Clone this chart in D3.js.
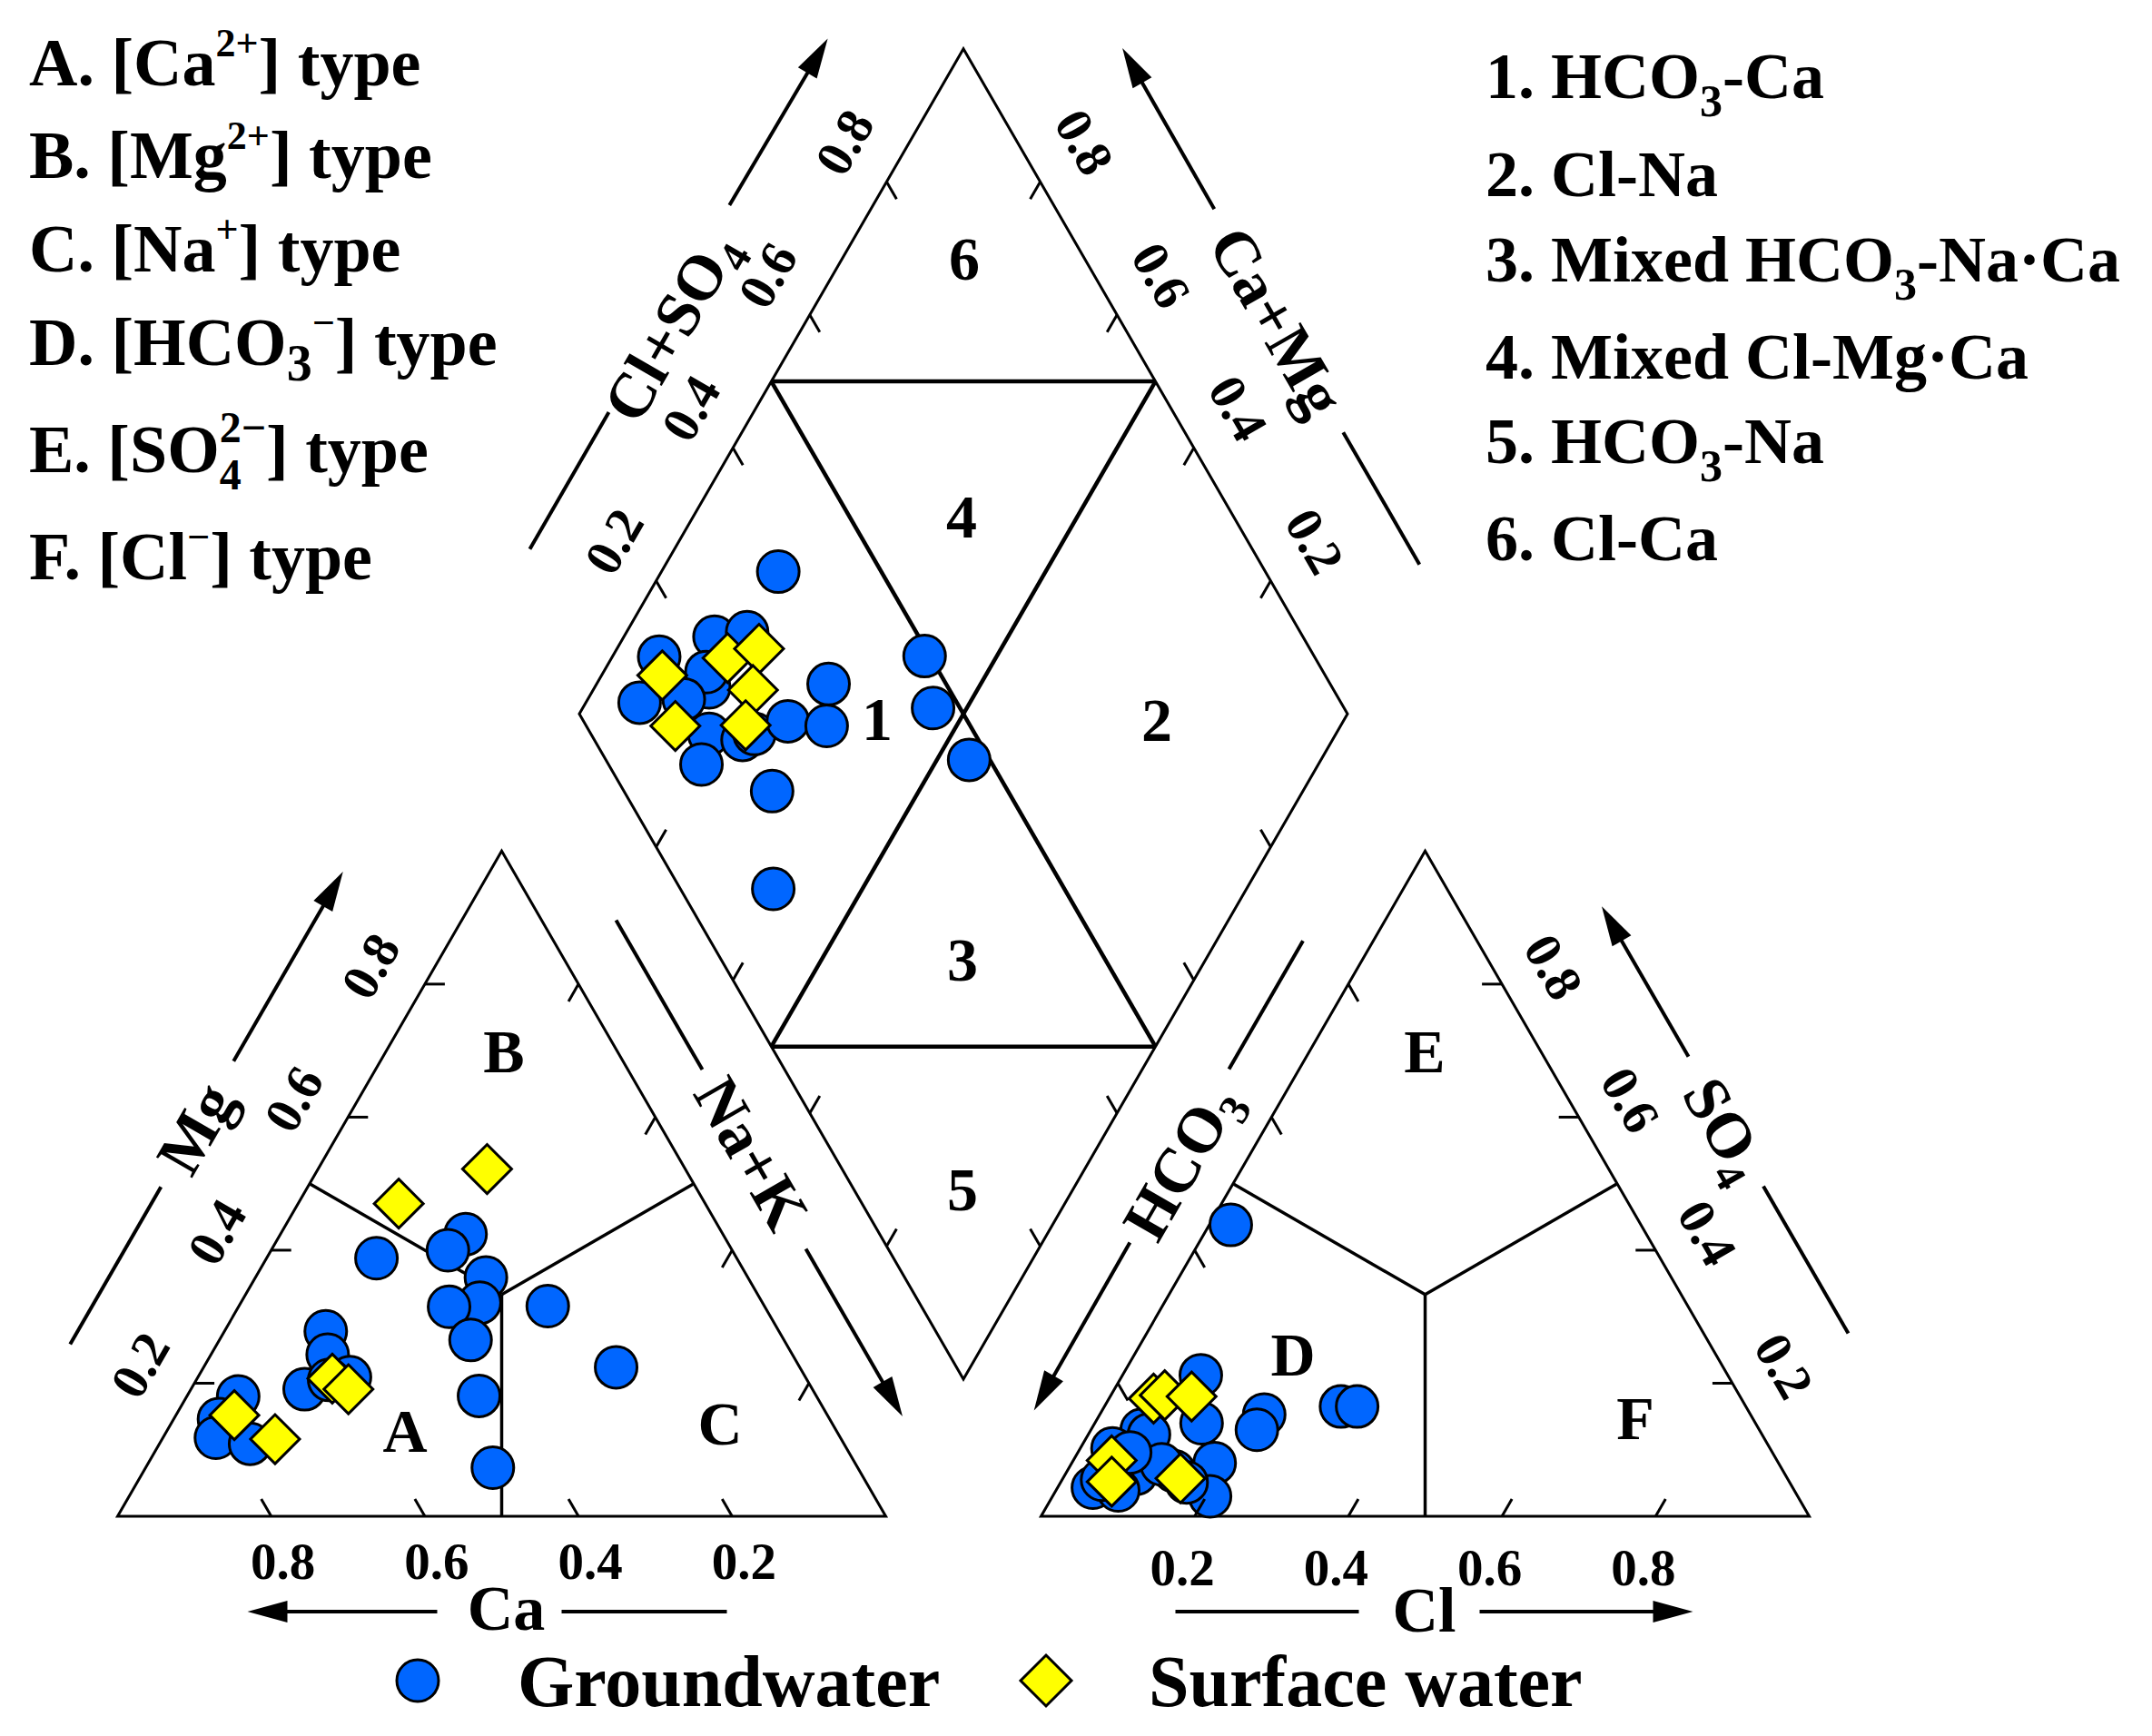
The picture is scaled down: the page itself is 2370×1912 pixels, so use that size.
<!DOCTYPE html>
<html><head><meta charset="utf-8">
<script src="https://cdn.jsdelivr.net/npm/d3@7"></script>
<style>
html,body{margin:0;padding:0;background:#fff;}
svg{display:block;}
text{font-family:"Liberation Serif","Times New Roman",serif;font-weight:bold;fill:#000;}
</style></head><body>
<svg id="chart" width="2370" height="1912"></svg>
<script>
// ---------------- DATA ----------------
// Cation triangle: [Ca, Mg, Na+K] fractions
const gwCation = [
  [0.469,0.388,0.143],[0.335,0.424,0.241],[0.370,0.400,0.230],[0.341,0.359,0.300],
  [0.368,0.321,0.311],[0.411,0.315,0.274],[0.408,0.265,0.327],[0.439,0.181,0.380],
  [0.475,0.073,0.452],[0.282,0.316,0.402],[0.239,0.224,0.537],[0.590,0.278,0.132],
  [0.605,0.243,0.152],[0.593,0.209,0.198],[0.661,0.191,0.148],[0.622,0.205,0.173],
  [0.753,0.180,0.067],[0.795,0.146,0.059],[0.813,0.118,0.069],[0.773,0.109,0.118]
];
const swCation = [
  [0.399,0.470,0.131],[0.258,0.522,0.220],[0.617,0.207,0.176],
  [0.604,0.191,0.205],[0.772,0.152,0.076],[0.737,0.116,0.147]
];
// Anion triangle: [HCO3, SO4, Cl] fractions
const gwAnion = [
  [0.534,0.438,0.028],[0.686,0.212,0.102],[0.721,0.140,0.139],[0.804,0.130,0.066],
  [0.798,0.123,0.079],[0.856,0.102,0.042],[0.844,0.064,0.092],[0.911,0.043,0.046],
  [0.880,0.039,0.081],[0.793,0.068,0.139],[0.734,0.080,0.186],[0.765,0.030,0.205],
  [0.633,0.153,0.214],[0.654,0.130,0.216],[0.527,0.165,0.308],[0.506,0.165,0.329],
  [0.804,0.078,0.118],[0.785,0.051,0.164],[0.893,0.055,0.052],[0.836,0.096,0.068]
];
const swAnion = [
  [0.765,0.177,0.058],[0.748,0.182,0.070],[0.714,0.180,0.106],
  [0.866,0.084,0.050],[0.882,0.052,0.066],[0.790,0.057,0.153]
];
// Diamond: [Na+K, Cl+SO4] fractions
const gwDiamond = [
  [0.152,0.366],[0.118,0.234],[0.157,0.280],[0.061,0.147],[0.070,0.087],
  [0.149,0.189],[0.134,0.197],[0.125,0.147],[0.184,0.154],[0.197,0.121],
  [0.232,0.193],[0.243,0.213],[0.277,0.266],[0.302,0.347],[0.331,0.313],
  [0.309,0.193],[0.384,0.121],[0.406,0.493],[0.456,0.465],[0.542,0.473]
];
const swDiamond = [
  [0.079,0.137],[0.134,0.116],[0.151,0.235],[0.185,0.283],[0.208,0.244],[0.225,0.208]
];
const tickValues = [0.2,0.4,0.6,0.8];
const tickLabels = ["0.2","0.4","0.6","0.8"];
const seriesNames = ["Groundwater","Surface water"];
const cationZones = ["A","B","C"];
const anionZones = ["D","E","F"];
const diamondZones = ["1","2","3","4","5","6"];
const leftLegend = [
  [["A. [Ca"],["2+","sup"],["] type"]],
  [["B. [Mg"],["2+","sup"],["] type"]],
  [["C. [Na"],["+","sup"],["] type"]],
  [["D. [HCO"],["3","sub"],["\u2212","sup"],["] type"]],
  [["E. [SO"],["4","sub2"],["2\u2212","sup2"],["] type"]],
  [["F. [Cl"],["\u2212","sup"],["] type"]]
];
const rightLegend = [
  [["1. HCO"],["3","sub"],["-Ca"]],
  [["2. Cl-Na"]],
  [["3. Mixed HCO"],["3","sub"],["-Na\u00B7Ca"]],
  [["4. Mixed Cl-Mg\u00B7Ca"]],
  [["5. HCO"],["3","sub"],["-Na"]],
  [["6. Cl-Ca"]]
];

// ---------------- LAYOUT ----------------
const S3 = Math.sqrt(3);
const x0 = 129.5, yb = 1670, L = 846, H = L*S3/2, gap = 171;
const x1 = x0 + L + gap;
const dbx = x0 + L + gap/2, dby = 1519;

const sxC = d3.scaleLinear().domain([0,1]).range([x0, x0+L]);
const sxA = d3.scaleLinear().domain([0,1]).range([x1, x1+L]);
const sy  = d3.scaleLinear().domain([0,1]).range([yb, yb-H]);
const dX  = d3.scaleLinear().domain([-1,1]).range([dbx-L/2, dbx+L/2]);
const dY  = d3.scaleLinear().domain([0,2]).range([dby, dby-2*H]);

const catPt = (ca,mg,na) => [sxC(na + mg/2), sy(mg)];
const anPt  = (hc,so,cl) => [sxA(cl + so/2), sy(so)];
const diaPt = (nak,cs) => { const cm = 1-nak; return [dX(cs-cm), dY(cs+cm)]; };

const svg = d3.select("#chart");
svg.append("rect").attr("width",2370).attr("height",1912).attr("fill","#fff");
const gLines = svg.append("g");
const gPts = svg.append("g");
const gTicks = svg.append("g");
const gText = svg.append("g");

const line = d3.line();
function poly(pts, w, close) {
  gLines.append("path").attr("d", line(pts) + (close?"Z":"")).attr("fill","none")
    .attr("stroke","#000").attr("stroke-width",w).attr("stroke-linejoin","miter").attr("stroke-linecap","butt");
}
// vertices
const cBL = catPt(1,0,0), cBR = catPt(0,0,1), cAP = catPt(0,1,0);
const aBL = anPt(1,0,0), aBR = anPt(0,0,1), aAP = anPt(0,1,0);
const dBo = diaPt(1,0), dLe = diaPt(0,0), dTo = diaPt(0,1), dRi = diaPt(1,1);

poly([cBL,cBR,cAP],3,true);
poly([aBL,aBR,aAP],3,true);
poly([dBo,dLe,dTo,dRi],3,true);

// inner lines cation
const cC = catPt(1/3,1/3,1/3);
poly([catPt(0.5,0,0.5), cC],3.5); poly([catPt(0.5,0.5,0), cC],3.5); poly([catPt(0,0.5,0.5), cC],3.5);
const aC = anPt(1/3,1/3,1/3);
poly([anPt(0.5,0,0.5), aC],3.5); poly([anPt(0.5,0.5,0), aC],3.5); poly([anPt(0,0.5,0.5), aC],3.5);
// diamond inner
const ULm = diaPt(0,0.5), URm = diaPt(0.5,1), LLm = diaPt(0.5,0), LRm = diaPt(1,0.5);
poly([ULm,URm],4.5); poly([LLm,LRm],4.5); poly([ULm,LRm],4.5); poly([URm,LLm],4.5);

// ticks
const TL = 22, c30 = 0.5, s60 = S3/2;
function ticks(fn, dir) {
  tickValues.forEach(f => {
    const p = fn(f);
    gTicks.append("line").attr("x1",p[0]).attr("y1",p[1])
      .attr("x2",p[0]+dir[0]*TL).attr("y2",p[1]+dir[1]*TL)
      .attr("stroke","#000").attr("stroke-width",3);
  });
}
ticks(f=>catPt(f,0,1-f), [-c30,-s60]);
ticks(f=>catPt(1-f,f,0), [1,0]);
ticks(f=>catPt(0,1-f,f), [-c30,s60]);
ticks(f=>anPt(1-f,0,f), [c30,-s60]);
ticks(f=>anPt(1-f,f,0), [c30,s60]);
ticks(f=>anPt(0,f,1-f), [-1,0]);
ticks(f=>diaPt(0,f), [c30,s60]);
ticks(f=>diaPt(1-f,1), [-c30,s60]);
ticks(f=>diaPt(1-f,0), [c30,-s60]);
ticks(f=>diaPt(1,f), [-c30,-s60]);

// points
const R = 23, DH = 27;
function circles(pts) {
  gPts.selectAll(null).data(pts).enter().append("circle")
    .attr("cx",d=>d[0]).attr("cy",d=>d[1]).attr("r",R)
    .attr("fill","#0066ff").attr("stroke","#000").attr("stroke-width",3);
}
function diamonds(pts, h) {
  gPts.selectAll(null).data(pts).enter().append("path")
    .attr("d",d=>`M${d[0]},${d[1]-h}L${d[0]+h},${d[1]}L${d[0]},${d[1]+h}L${d[0]-h},${d[1]}Z`)
    .attr("fill","#ffff00").attr("stroke","#000").attr("stroke-width",3).attr("stroke-linejoin","miter");
}
circles(gwCation.map(d=>catPt(...d)));
circles(gwAnion.map(d=>anPt(...d)));
circles(gwDiamond.map(d=>diaPt(...d)));
diamonds(swCation.map(d=>catPt(...d)), DH);
diamonds(swAnion.map(d=>anPt(...d)), DH);
diamonds(swDiamond.map(d=>diaPt(...d)), DH);

// ---------------- TEXT ----------------
function rich(parent, segs, styles, size, attrs) {
  const t = parent.append("text").attr("font-size", size);
  Object.entries(attrs).forEach(([k,v]) => t.attr(k,v));
  let cur = 0;
  segs.forEach(([str, kind]) => {
    const st = kind ? styles[kind] : {shift:0};
    const ts = t.append("tspan").text(str);
    const sh = st.shift || 0;
    if (sh - cur !== 0) ts.attr("dy", sh - cur);
    if (st.size) ts.attr("font-size", st.size);
    if (st.dx) ts.attr("dx", st.dx);
    cur = sh;
  });
  return t;
}
const lStyles = {sup:{size:44,shift:-32}, sub:{size:56,shift:17}, sub2:{size:48,shift:19}, sup2:{size:48,shift:-33,dx:-24}};
const lY = [94,196,299,402,520,638];
leftLegend.forEach((segs,i)=> rich(gText, segs, lStyles, 74, {x:32, y:lY[i]}));
const rStyles = {sub:{size:50,shift:20}};
const rY = [108,216,310,417,510,617];
rightLegend.forEach((segs,i)=> rich(gText, segs, rStyles, 72, {x:1636, y:rY[i]}));

// bottom tick labels
const TFS = 57;
tickValues.forEach((f,i)=>{
  const p = catPt(f,0,1-f);
  gText.append("text").attr("x",p[0]+13).attr("y",1739).attr("font-size",TFS).attr("text-anchor","middle").text(tickLabels[i]);
  const q = anPt(1-f,0,f);
  gText.append("text").attr("x",q[0]-13.5).attr("y",1746).attr("font-size",TFS).attr("text-anchor","middle").text(tickLabels[i]);
});
function rotLabel(str, c, ang, size) {
  gText.append("text").attr("transform",`translate(${c[0]},${c[1]}) rotate(${ang})`)
    .attr("y", size*0.34).attr("font-size",size).attr("text-anchor","middle").text(str);
}
tickValues.forEach((f,i)=>{
  let p = catPt(1-f,f,0); rotLabel(tickLabels[i],[p[0]-60,p[1]-20],-60,TFS);
  p = anPt(0,f,1-f); rotLabel(tickLabels[i],[p[0]+57,p[1]-19],60,TFS);
  p = diaPt(0,f); rotLabel(tickLabels[i],[p[0]-46.5,p[1]-43.6],-60,TFS);
  p = diaPt(1-f,1); rotLabel(tickLabels[i],[p[0]+48.7,p[1]-43.7],60,TFS);
});

// axis titles and arrows
function frame(P,Q,n){ const len=Math.hypot(Q[0]-P[0],Q[1]-P[1]); const u=[(Q[0]-P[0])/len,(Q[1]-P[1])/len];
  return (s,off)=>[P[0]+u[0]*s+n[0]*off, P[1]+u[1]*s+n[1]*off]; }
function seg(a,b){ gLines.append("line").attr("x1",a[0]).attr("y1",a[1]).attr("x2",b[0]).attr("y2",b[1])
  .attr("stroke","#000").attr("stroke-width",4); }
function arrow(a,tip){ const len=Math.hypot(tip[0]-a[0],tip[1]-a[1]); const u=[(tip[0]-a[0])/len,(tip[1]-a[1])/len];
  const hl=44, hw=12; const b=[tip[0]-u[0]*hl, tip[1]-u[1]*hl];
  seg(a,[tip[0]-u[0]*(hl-4),tip[1]-u[1]*(hl-4)]);
  gLines.append("path").attr("d",`M${tip[0]},${tip[1]}L${b[0]-u[1]*hw},${b[1]+u[0]*hw}L${b[0]+u[1]*hw},${b[1]-u[0]*hw}Z`).attr("fill","#000"); }
const AFS = 70;
const axStyles = {sub:{size:48,shift:15}};
function axTitle(segs, c, ang){ rich(gText, segs, axStyles, AFS, {transform:`translate(${c[0]},${c[1]}) rotate(${ang})`, y:AFS*0.34, "text-anchor":"middle"}); }

const nL = [-s60,-c30], nR = [s60,-c30];
let f;
f = frame(cBL,cAP,nL); seg(f(138,140),f(338,140)); arrow(f(498,140),f(739,140)); axTitle([["Mg"]], f(413,139), -60);
f = frame(cAP,cBR,nR); seg(f(129,71),f(319,71)); arrow(f(547,71),f(760,71)); axTitle([["Na+K"]], f(426,72), 60);
f = frame(aAP,aBL,nL); seg(f(153,67),f(316,67)); arrow(f(536,66),f(749,65)); axTitle([["HCO"],["3","sub"]], f(431,62), -60);
f = frame(aAP,aBR,nR); arrow(f(341,138),f(150,138)); seg(f(506,138),f(693,138)); axTitle([["SO"],["4","sub"]], f(431,134), 60);
f = frame(dLe,dTo,nL); seg(f(130,138),f(304,138)); arrow(f(568,137),f(781,135)); axTitle([["Cl+SO"],["4","sub"]], f(420,126), -60);
f = frame(dTo,dRi,nR); arrow(f(291,151),f(87,152)); seg(f(575,151),f(743,151)); axTitle([["Ca+Mg"]], f(433,149), 60);
// horizontal titles
let cx = cAP[0];
arrow([cx-71,1775],[cx-280,1775]); seg([cx+66,1775],[cx+248,1775]);
gText.append("text").attr("x",cx+5).attr("y",1795).attr("font-size",AFS).attr("text-anchor","middle").text("Ca");
cx = aAP[0];
seg([cx-275,1775],[cx-73,1775]); arrow([cx+60,1775],[cx+295,1775]);
gText.append("text").attr("x",cx-1).attr("y",1797).attr("font-size",AFS).attr("text-anchor","middle").text("Cl");

// zone labels
const ZFS = 68;
function zone(str, c){ gText.append("text").attr("x",c[0]).attr("y",c[1]+23).attr("font-size",ZFS).attr("text-anchor","middle").text(str); }
zone(cationZones[0],[446,1576]); zone(cationZones[1],[555,1158]); zone(cationZones[2],[793,1568]);
zone(anionZones[0],[1424,1492]); zone(anionZones[1],[1569,1158]); zone(anionZones[2],[1801,1562]);
zone(diamondZones[0],[966,792]); zone(diamondZones[1],[1274,793]); zone(diamondZones[2],[1060,1057]);
zone(diamondZones[3],[1059,569]); zone(diamondZones[4],[1060,1310]); zone(diamondZones[5],[1062,285]);

// bottom legend
gPts.append("circle").attr("cx",460).attr("cy",1851).attr("r",R).attr("fill","#0066ff").attr("stroke","#000").attr("stroke-width",3);
gText.append("text").attr("x",570).attr("y",1879).attr("font-size",80).text(seriesNames[0]);
diamonds([[1152,1851]], 28);
gText.append("text").attr("x",1265).attr("y",1879).attr("font-size",80).text(seriesNames[1]);
</script>
</body></html>
